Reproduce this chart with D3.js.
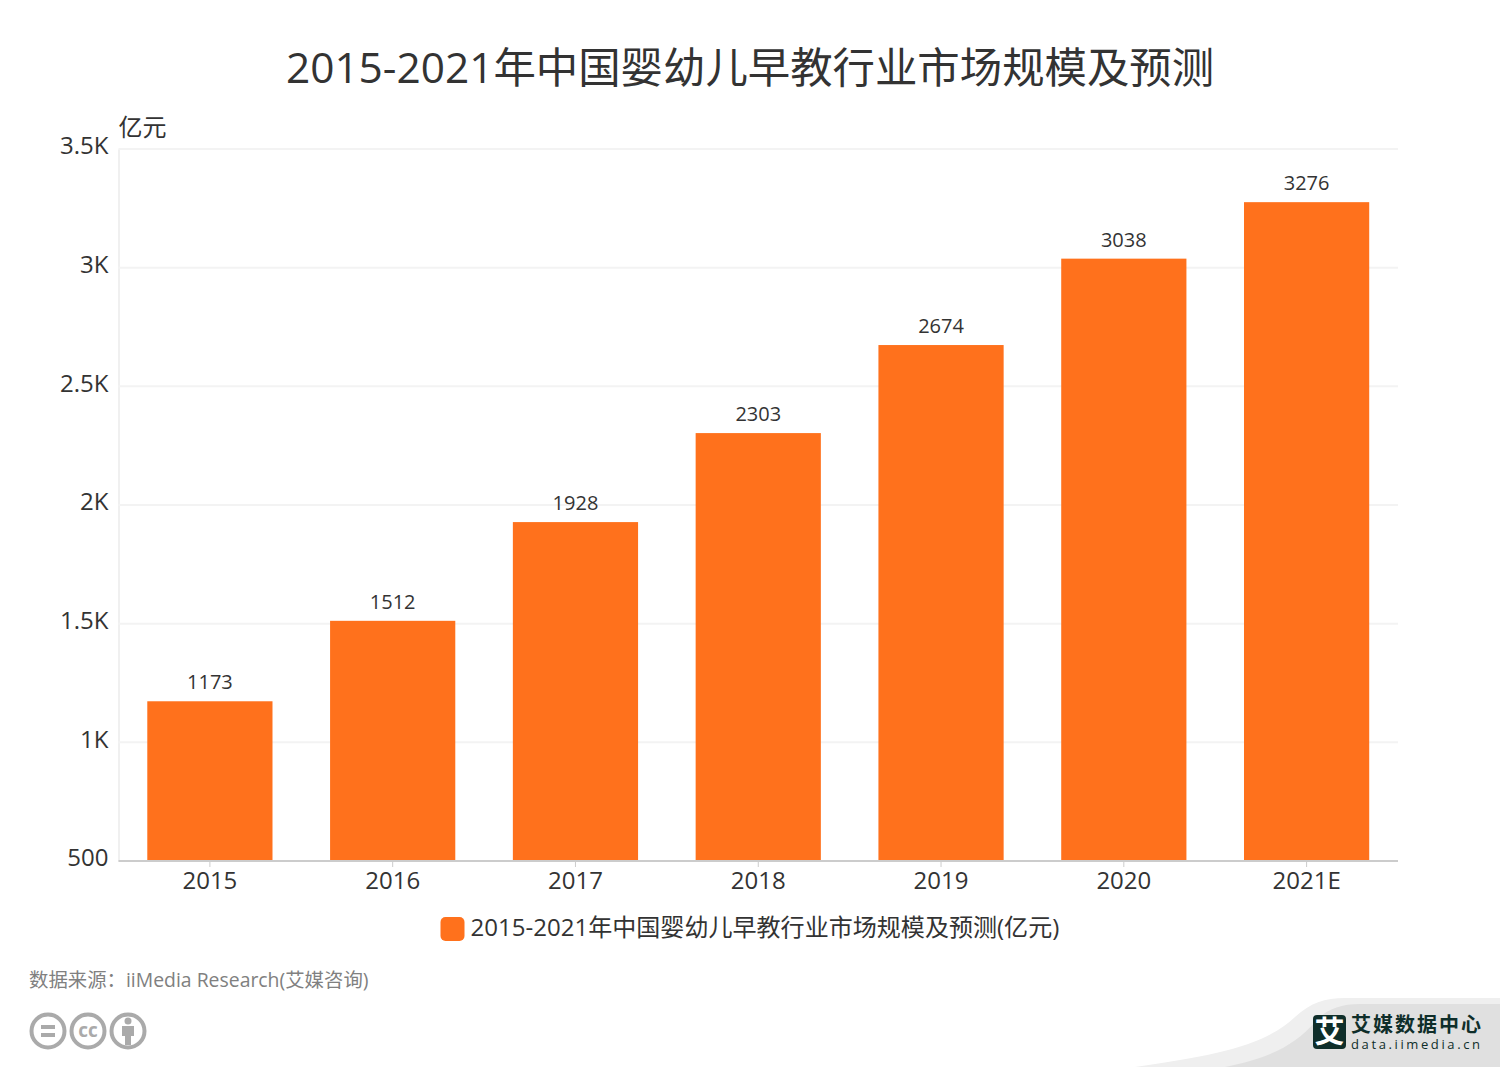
<!DOCTYPE html>
<html>
<head>
<meta charset="utf-8">
<script src="https://cdn.jsdelivr.net/npm/d3@7/dist/d3.min.js"></script>
<style>
  html, body { margin: 0; padding: 0; background: #fff; }
  text { font-family: "Open Sans", "Noto Sans CJK SC", sans-serif; }
  .cjk { font-family: "Noto Sans CJK SC", sans-serif; }
</style>
</head>
<body>
<div id="chart"></div>
<script>
const categories = ["2015", "2016", "2017", "2018", "2019", "2020", "2021E"];
const values = [1173, 1512, 1928, 2303, 2674, 3038, 3276];
const yTicks = [500, 1000, 1500, 2000, 2500, 3000, 3500];
const yTickLabels = ["500", "1K", "1.5K", "2K", "2.5K", "3K", "3.5K"];
const titleText = "2015-2021年中国婴幼儿早教行业市场规模及预测";
const legendText = "2015-2021年中国婴幼儿早教行业市场规模及预测(亿元)";
const unitText = "亿元";
const sourceText = "数据来源：iiMedia Research(艾媒咨询)";

const barColor = "#ff711c";
const textColor = "#333333";

const width = 1500, height = 1067;
const margin = {top: 149, right: 102, bottom: 206, left: 118.5};

const svg = d3.select("#chart").append("svg")
    .attr("width", width)
    .attr("height", height)
    .style("display", "block");

const x = d3.scaleBand()
    .domain(categories)
    .range([margin.left, width - margin.right])
    .paddingInner(0.315)
    .paddingOuter(0.1575);

const y = d3.scaleLinear()
    .domain([500, 3500])
    .range([height - margin.bottom, margin.top]);

// title
svg.append("text")
    .attr("x", 750)
    .attr("y", 83)
    .attr("text-anchor", "middle")
    .attr("font-size", 42.4)
    .attr("fill", textColor)
    .text(titleText);

// y axis + grid
let yAxis = d3.axisLeft(y)
    .tickValues(yTicks)
    .tickFormat((d, i) => yTickLabels[i])
    .tickSize(0)
    .tickPadding(10);

let yg = svg.append("g")
    .attr("transform", `translate(${margin.left},0)`)
    .call(yAxis);
yg.select(".domain").attr("stroke", "#f0f0f0").attr("stroke-width", 2);
yg.selectAll("text")
    .attr("font-size", 24)
    .attr("fill", textColor)
    .attr("dy", "0.2em");

svg.append("g").selectAll("line")
    .data(yTicks.slice(1))
    .enter()
    .append("line")
    .attr("x1", margin.left)
    .attr("x2", width - margin.right)
    .attr("y1", d => y(d))
    .attr("y2", d => y(d))
    .attr("stroke", "#f3f3f3")
    .attr("stroke-width", 2);

// bars
svg.append("g").selectAll("rect")
    .data(values)
    .enter()
    .append("rect")
    .attr("x", (d, i) => x(categories[i]))
    .attr("y", d => y(d))
    .attr("width", x.bandwidth())
    .attr("height", d => y(500) - y(d))
    .attr("fill", barColor);

// value labels
svg.append("g").selectAll("text")
    .data(values)
    .enter()
    .append("text")
    .attr("x", (d, i) => x(categories[i]) + x.bandwidth() / 2)
    .attr("y", d => y(d) - 12)
    .attr("text-anchor", "middle")
    .attr("font-size", 20)
    .attr("fill", textColor)
    .text(d => d);

// x axis
let xAxis = d3.axisBottom(x)
    .tickSize(6)
    .tickPadding(5);
let xg = svg.append("g")
    .attr("transform", `translate(0,${height - margin.bottom})`)
    .call(xAxis);
xg.select(".domain").attr("stroke", "#cccccc").attr("stroke-width", 2).attr("d", `M${margin.left},0H${width - margin.right}`);
xg.selectAll(".tick line").attr("stroke", "#cccccc").attr("stroke-width", 1);
xg.selectAll("text")
    .attr("font-size", 24)
    .attr("fill", textColor);

// unit
svg.append("text")
    .attr("x", 118.5)
    .attr("y", 136)
    .attr("font-size", 24)
    .attr("fill", textColor)
    .text(unitText);

// legend
svg.append("rect")
    .attr("x", 440.5)
    .attr("y", 917)
    .attr("width", 24)
    .attr("height", 24)
    .attr("rx", 5)
    .attr("fill", barColor);
svg.append("text")
    .attr("x", 470.5)
    .attr("y", 935.5)
    .attr("font-size", 24.05)
    .attr("fill", textColor)
    .text(legendText);

// source
svg.append("text")
    .attr("x", 29)
    .attr("y", 987)
    .attr("font-size", 19.4)
    .attr("fill", "#808080")
    .text(sourceText);

// cc icons
let cc = svg.append("g").attr("fill", "none").attr("stroke", "#aaaaaa").attr("stroke-width", 4);
[48, 88, 128].forEach(cx => cc.append("circle").attr("cx", cx).attr("cy", 1031).attr("r", 16.5));
cc.append("path").attr("d", "M41,1027H55M41,1035H55");
svg.append("text")
    .attr("x", 88).attr("y", 1037)
    .attr("text-anchor", "middle")
    .attr("font-size", 19).attr("font-weight", 700)
    .attr("fill", "#aaaaaa")
    .text("cc");
svg.append("circle").attr("cx", 128).attr("cy", 1021).attr("r", 3.5).attr("fill", "#aaaaaa");
svg.append("path").attr("d", "M122,1026H134V1036H131V1045H125V1036H122Z").attr("fill", "#aaaaaa");

// corner logo
svg.append("path")
    .attr("d", "M1135,1067C1220,1055 1265,1045 1295,1017C1310,1003 1325,998 1345,998H1500V1067Z")
    .attr("fill", "#efefef");
svg.append("path")
    .attr("d", "M1225,1067C1270,1058 1295,1045 1315,1022C1325,1010 1340,1004 1360,1004H1500V1067Z")
    .attr("fill", "#e0e0e0");
svg.append("rect")
    .attr("x", 1313).attr("y", 1015)
    .attr("width", 33).attr("height", 34)
    .attr("rx", 4)
    .attr("fill", "#0f2e2a");
svg.append("text")
    .attr("class", "cjk")
    .attr("x", 1329.5).attr("y", 1042)
    .attr("text-anchor", "middle")
    .attr("font-size", 30).attr("font-weight", 700)
    .attr("fill", "#ffffff")
    .text("艾");
svg.append("text")
    .attr("class", "cjk")
    .attr("x", 1351).attr("y", 1032)
    .attr("font-size", 20).attr("font-weight", 700)
    .attr("textLength", 130)
    .attr("fill", "#0f2e2a")
    .text("艾媒数据中心");
svg.append("text")
    .attr("x", 1351).attr("y", 1049)
    .attr("font-size", 13)
    .attr("textLength", 129)
    .attr("fill", "#0f2e2a")
    .text("data.iimedia.cn");
</script>
</body>
</html>
